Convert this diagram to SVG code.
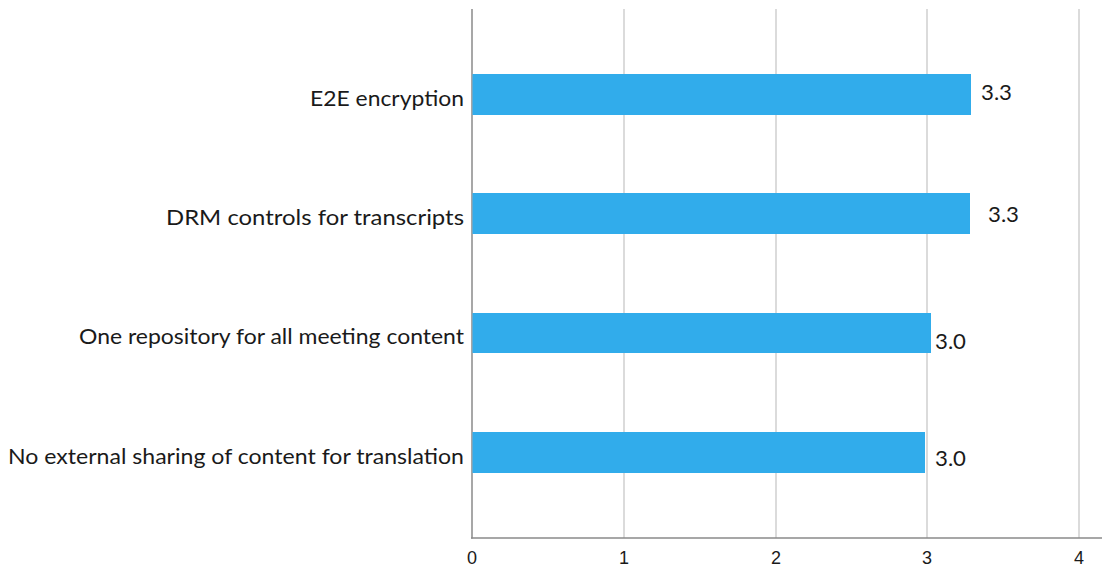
<svg xmlns="http://www.w3.org/2000/svg" width="1102" height="571" viewBox="0 0 1102 571">
<style>
.grid{stroke:#cfcfcf;stroke-width:1.5}
.axis{stroke:#8a8a8a;stroke-width:1.5}
.bar{fill:#31aceb}
.cat{font-family:Lato,"Open Sans","Liberation Sans",sans-serif;font-size:22px;fill:#1a1a1a;text-anchor:end}
.val{font-family:Lato,"Open Sans","Liberation Sans",sans-serif;font-size:22px;fill:#1a1a1a}
.tick{font-family:"Liberation Sans",Arial,sans-serif;font-size:18px;fill:#1a1a1a;text-anchor:middle}
</style>
<rect width="1102" height="571" fill="#ffffff"/>
<g id="grid">
<line class="grid" x1="624" y1="9" x2="624" y2="538"/>
<line class="grid" x1="776" y1="9" x2="776" y2="538"/>
<line class="grid" x1="927" y1="9" x2="927" y2="538"/>
<line class="grid" x1="1079" y1="9" x2="1079" y2="538"/>
</g>
<g id="axes">
<line class="axis" x1="472" y1="9" x2="472" y2="538.5"/>
<line class="axis" x1="471" y1="538" x2="1102" y2="538"/>
</g>
<g id="ticks">
<text class="tick" x="472" y="564">0</text>
<text class="tick" x="624" y="564">1</text>
<text class="tick" x="776" y="564">2</text>
<text class="tick" x="927" y="564">3</text>
<text class="tick" x="1079" y="564">4</text>
</g>
<g id="bar-e2e">
<rect class="bar" x="472.5" y="74" width="498.5" height="41"/>
<text class="cat" x="464" y="106" textLength="154" lengthAdjust="spacingAndGlyphs">E2E encryption</text>
<text class="val" x="981" y="100" textLength="31" lengthAdjust="spacingAndGlyphs">3.3</text>
</g>
<g id="bar-drm">
<rect class="bar" x="472.5" y="193" width="497.5" height="41"/>
<text class="cat" x="464" y="225" textLength="298" lengthAdjust="spacingAndGlyphs">DRM controls for transcripts</text>
<text class="val" x="988" y="222" textLength="31" lengthAdjust="spacingAndGlyphs">3.3</text>
</g>
<g id="bar-repo">
<rect class="bar" x="472.5" y="313" width="458.5" height="40"/>
<text class="cat" x="464" y="344" textLength="385" lengthAdjust="spacingAndGlyphs">One repository for all meeting content</text>
<text class="val" x="935" y="349" textLength="31" lengthAdjust="spacingAndGlyphs">3.0</text>
</g>
<g id="bar-ext">
<rect class="bar" x="472.5" y="432" width="452.5" height="41"/>
<text class="cat" x="464" y="464" textLength="456" lengthAdjust="spacingAndGlyphs">No external sharing of content for translation</text>
<text class="val" x="935" y="466" textLength="31" lengthAdjust="spacingAndGlyphs">3.0</text>
</g>
</svg>
